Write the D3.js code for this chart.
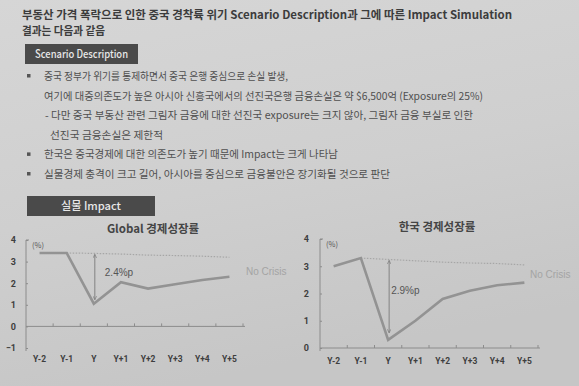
<!DOCTYPE html>
<html>
<head>
<meta charset="utf-8">
<script src="https://cdn.jsdelivr.net/npm/d3@7"></script>
<style>
  body { margin: 0; background: #cdcdcd; }
  svg text { font-family: "Noto Sans CJK KR", "Noto Sans", sans-serif; }
</style>
</head>
<body>
<svg id="page" width="579" height="386"></svg>
<script>
// category labels
var years = ['Y-2', 'Y-1', 'Y', 'Y+1', 'Y+2', 'Y+3', 'Y+4', 'Y+5'];

// Global growth (%)
var globalCrisis = [3.4, 3.4, 1.05, 2.05, 1.75, 1.95, 2.15, 2.3];
var globalNoCrisis = [null, 3.4, 3.38, 3.35, 3.3, 3.28, 3.25, 3.2];
var globalTicks = [-1, 0, 1, 2, 3, 4];

// Korea growth (%)
var koreaCrisis = [3.0, 3.3, 0.3, 1.0, 1.8, 2.1, 2.3, 2.4];
var koreaNoCrisis = [null, 3.3, 3.25, 3.2, 3.15, 3.12, 3.1, 3.05];
var koreaTicks = [0, 1, 2, 3, 4];

// text blocks
var headLines = [
  '부동산 가격 폭락으로 인한 중국 경착륙 위기 Scenario Description과 그에 따른 Impact Simulation',
  '결과는 다음과 같음'
];
var bodyLines = [
  {t: '중국 정부가 위기를 통제하면서 중국 은행 중심으로 손실 발생,', bullet: true, x: 44, w: 244},
  {t: '여기에 대중의존도가 높은 아시아 신흥국에서의 선진국은행 금융손실은 약 $6,500억 (Exposure의 25%)', bullet: false, x: 44, w: 439},
  {t: '- 다만 중국 부동산 관련 그림자 금융에 대한 선진국 exposure는 크지 않아, 그림자 금융 부실로 인한', bullet: false, x: 45, w: 428},
  {t: '선진국 금융손실은 제한적', bullet: false, x: 50, w: 113},
  {t: '한국은 중국경제에 대한 의존도가 높기 때문에 Impact는 크게 나타남', bullet: true, x: 44, w: 294},
  {t: '실물경제 충격이 크고 길어, 아시아를 중심으로 금융불안은 장기화될 것으로 판단', bullet: true, x: 44, w: 346}
];

var svg = d3.select('#page');

// photographed paper background
var defs = svg.append('defs');
var grad = defs.append('linearGradient').attr('id', 'paper')
  .attr('x1', 0).attr('y1', 0).attr('x2', 0.3).attr('y2', 1);
grad.append('stop').attr('offset', '0%').attr('stop-color', '#d6d6d6');
grad.append('stop').attr('offset', '55%').attr('stop-color', '#cfcfcf');
grad.append('stop').attr('offset', '100%').attr('stop-color', '#c6c6c6');
svg.append('rect').attr('width', 579).attr('height', 386).attr('fill', 'url(#paper)');

function arrowMarker(id, orient) {
  defs.append('marker').attr('id', id)
    .attr('viewBox', '0 0 10 10').attr('refX', 9).attr('refY', 5)
    .attr('markerWidth', 5).attr('markerHeight', 5).attr('orient', orient)
    .append('path').attr('d', 'M1,1 L9,5 L1,9').attr('fill', 'none')
    .attr('stroke', '#777').attr('stroke-width', 1.4);
}
arrowMarker('arrEnd', 'auto');
arrowMarker('arrStart', 'auto-start-reverse');

// heading
svg.append('g').selectAll('text').data(headLines).enter().append('text')
  .attr('x', 22).attr('y', (d, i) => 19 + i * 16)
  .attr('textLength', (d, i) => i == 0 ? 490 : 83)
  .attr('lengthAdjust', 'spacingAndGlyphs')
  .style('font-size', '11px').style('font-weight', 'bold')
  .attr('fill', '#3c3c3c')
  .text(d => d);

// dark label boxes
function labelBox(x, y, w, h, txt, tw) {
  svg.append('rect').attr('x', x).attr('y', y).attr('width', w).attr('height', h)
    .attr('fill', '#4a4a4a');
  svg.append('text').attr('x', x + w / 2).attr('y', y + h / 2 + 4)
    .attr('text-anchor', 'middle').attr('fill', '#e8e8e8')
    .attr('textLength', tw).attr('lengthAdjust', 'spacingAndGlyphs')
    .style('font-size', '11px').style('font-weight', '500')
    .text(txt);
}
labelBox(25, 44, 113, 20, 'Scenario Description', 93);
labelBox(27, 196, 128, 20, '실물 Impact', 60);

// bullet text
var body = svg.append('g');
body.selectAll('text.line').data(bodyLines).enter().append('text')
  .attr('class', 'line')
  .attr('x', d => d.x).attr('y', (d, i) => 80 + i * 19.6)
  .attr('textLength', d => d.w).attr('lengthAdjust', 'spacingAndGlyphs')
  .style('font-size', '10.5px').attr('fill', '#4f4f4f')
  .text(d => d.t);
body.selectAll('rect.bullet').data(bodyLines.map((d, i) => ({d: d, i: i})).filter(o => o.d.bullet))
  .enter().append('rect').attr('class', 'bullet')
  .attr('x', 27).attr('y', o => 80 + o.i * 19.6 - 6)
  .attr('width', 3.5).attr('height', 3.5).attr('fill', '#555');

function drawChart(cfg) {
  var g = svg.append('g');
  var x = d3.scaleBand().domain(years).range([cfg.x0, cfg.x1]);
  var y = d3.scaleLinear().domain(cfg.domain).range([cfg.yBottom, cfg.yTop]);
  var bw = x.bandwidth();

  // title
  g.append('text').attr('x', cfg.titleX).attr('y', cfg.titleY)
    .attr('text-anchor', 'middle').attr('fill', '#454545')
    .style('font-size', '11.5px').style('font-weight', 'bold')
    .text(cfg.title);

  // y axis
  var yAxis = g.append('g').attr('transform', 'translate(' + cfg.x0 + ',0)')
    .call(d3.axisLeft(y).tickValues(cfg.ticks).tickSize(3).tickPadding(cfg.yPad).tickFormat(d3.format('d')));
  yAxis.select('.domain').attr('stroke', '#8c8c8c').attr('d',
    'M3,' + y(cfg.domain[1]) + 'H0V' + (y(cfg.domain[0]) + 3));
  yAxis.selectAll('.tick line').attr('stroke', '#8c8c8c').attr('x2', 2).attr('x1', 0);
  yAxis.selectAll('.tick text').attr('fill', '#3e3e3e')
    .style('font-size', '9px').style('font-weight', 'bold').style('font-family', 'Roboto, sans-serif');

  // x axis at zero line
  var zy = y(0);
  var xAxis = g.append('g').attr('transform', 'translate(0,' + zy + ')')
    .call(d3.axisBottom(x).tickSize(0).tickPadding(cfg.labelPad));
  xAxis.select('.domain').attr('stroke', '#8c8c8c').attr('d', 'M' + cfg.x0 + ',0H' + (cfg.x1 + 2));
  xAxis.selectAll('.tick text').attr('fill', '#3e3e3e')
    .style('font-size', '8.5px').style('font-weight', 'bold').style('font-family', 'Roboto, sans-serif');
  g.append('g').selectAll('line').data(years).enter().append('line')
    .attr('x1', d => x(d) + bw).attr('x2', d => x(d) + bw)
    .attr('y1', zy).attr('y2', zy - 3)
    .attr('stroke', '#8c8c8c');

  // (%)
  g.append('text').attr('x', cfg.x0 + cfg.unitDx).attr('y', y(cfg.domain[1]) + 8)
    .attr('fill', '#555').style('font-size', '7.5px').text('(%)');

  // no crisis dotted line
  var line = d3.line()
    .defined(d => d != null)
    .x((d, i) => x(years[i]) + bw / 2)
    .y(d => y(d));
  g.append('path').datum(cfg.noCrisis).attr('d', line)
    .attr('fill', 'none').attr('stroke', '#a6a6a6').attr('stroke-width', 1.2)
    .attr('stroke-dasharray', '1.5,1.5');

  // crisis line
  g.append('path').datum(cfg.crisis).attr('d', line)
    .attr('fill', 'none').attr('stroke', '#939393').attr('stroke-width', 2.6)
    .attr('stroke-linejoin', 'miter');

  // gap arrow at Y
  var ax = x('Y') + bw / 2 + cfg.arrowDx;
  var yi = years.indexOf('Y');
  g.append('line').attr('x1', ax).attr('x2', ax)
    .attr('y1', y(cfg.noCrisis[yi]) + 1).attr('y2', y(cfg.crisis[yi]) - cfg.arrowGap)
    .attr('stroke', '#7a7a7a').attr('stroke-width', 0.9)
    .attr('marker-start', 'url(#arrStart)').attr('marker-end', 'url(#arrEnd)');
  g.append('text').attr('x', ax + cfg.gapDx).attr('y', y(cfg.gapY))
    .attr('fill', '#555').style('font-size', '10px')
    .style('font-family', '"Liberation Sans", sans-serif')
    .text(cfg.gapLabel);

  // no crisis label
  g.append('text').attr('x', cfg.ncX).attr('y', cfg.ncY)
    .attr('fill', '#a4a4a4').style('font-size', '10px')
    .style('font-family', '"Liberation Sans", sans-serif')
    .text('No Crisis');
}

drawChart({
  title: 'Global 경제성장률', titleX: 153, titleY: 233,
  x0: 26, x1: 243, yTop: 240, yBottom: 348, domain: [-1, 4], ticks: globalTicks,
  crisis: globalCrisis, noCrisis: globalNoCrisis,
  labelPad: 30, yPad: 7, unitDx: 6, arrowDx: 1, arrowGap: 4,
  gapLabel: '2.4%p', gapDx: 10, gapY: 2.35,
  ncX: 246, ncY: 275
});

drawChart({
  title: '한국 경제성장률', titleX: 437, titleY: 231,
  x0: 320, x1: 538, yTop: 239, yBottom: 348, domain: [0, 4], ticks: koreaTicks,
  crisis: koreaCrisis, noCrisis: koreaNoCrisis,
  labelPad: 10, yPad: 8, unitDx: 6, arrowDx: 1, arrowGap: 7,
  gapLabel: '2.9%p', gapDx: 2, gapY: 2.0,
  ncX: 530, ncY: 278
});
</script>
</body>
</html>
